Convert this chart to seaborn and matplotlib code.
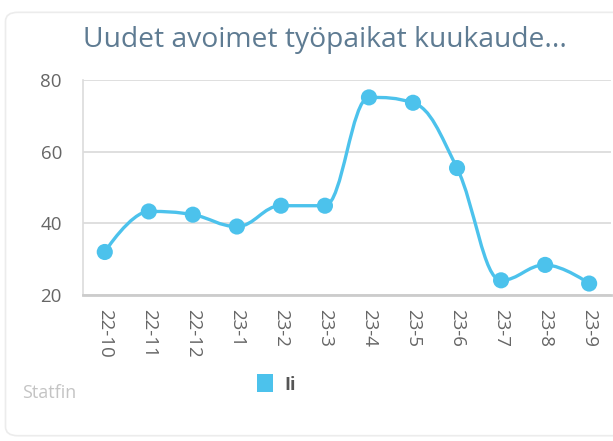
import numpy as np
import pandas as pd
import matplotlib
matplotlib.use("Agg")
import matplotlib.pyplot as plt
from matplotlib.path import Path
from matplotlib.patches import PathPatch, FancyBboxPatch
import seaborn as sns

# data
months = ["22-10", "22-11", "22-12", "23-1", "23-2", "23-3",
          "23-4", "23-5", "23-6", "23-7", "23-8", "23-9"]
values = [32, 43.3, 42.4, 39.1, 44.9, 44.9, 75.1, 73.6, 55.4, 24.1, 28.4, 23.2]
y_ticks = [20, 40, 60, 80]
series_name = "Ii"
title = "Uudet avoimet työpaikat kuukaude..."
credit = "Statfin"

LINE = "#4cc2ec"
TEXT = "#666666"

sns.set_theme(style="white")
plt.rcParams["font.family"] = ["Open Sans", "DejaVu Sans"]


def spline_path(xs, ys, smoothing=1.5):
    """Highcharts-style spline through the points, as cubic bezier segments"""
    n = len(xs)
    left = [(xs[i], ys[i]) for i in range(n)]
    right = [(xs[i], ys[i]) for i in range(n)]
    denom = smoothing + 1
    for i in range(1, n - 1):
        x, y = xs[i], ys[i]
        px, py = xs[i - 1], ys[i - 1]
        nx, ny = xs[i + 1], ys[i + 1]
        lcx = (smoothing * x + px) / denom
        lcy = (smoothing * y + py) / denom
        rcx = (smoothing * x + nx) / denom
        rcy = (smoothing * y + ny) / denom
        corr = ((rcy - lcy) * (rcx - x)) / (rcx - lcx) + y - rcy
        lcy += corr
        rcy += corr
        if lcy > py and lcy > y:
            lcy = max(py, y)
            rcy = 2 * y - lcy
        elif lcy < py and lcy < y:
            lcy = min(py, y)
            rcy = 2 * y - lcy
        if rcy > ny and rcy > y:
            rcy = max(ny, y)
            lcy = 2 * y - rcy
        elif rcy < ny and rcy < y:
            rcy = min(ny, y)
            lcy = 2 * y - rcy
        left[i] = (lcx, lcy)
        right[i] = (rcx, rcy)
    verts = [(xs[0], ys[0])]
    codes = [Path.MOVETO]
    for i in range(1, n):
        verts += [right[i - 1], left[i], (xs[i], ys[i])]
        codes += [Path.CURVE4] * 3
    return Path(verts, codes)


df = pd.DataFrame({"month": months, "value": values})
df["pos"] = np.arange(len(months))

fig = plt.figure(figsize=(6.13, 4.41), dpi=100)

# card outline
card = FancyBboxPatch((0.009, 0.012), 1.2, 0.96, boxstyle="round,pad=0,rounding_size=0.02",
                      transform=fig.transFigure, fc="none", ec="#ececec", lw=1.2, zorder=-1)
fig.patches.append(card)

ax = fig.add_axes([0.135, 0.331, 0.862, 0.488])
ax.set_facecolor("none")

ax.add_patch(PathPatch(spline_path(df["pos"].tolist(), df["value"].tolist()),
                       fc="none", ec=LINE, lw=2.4, zorder=3, capstyle="round"))
sns.scatterplot(data=df, x="pos", y="value", ax=ax, color=LINE, s=135,
                edgecolor="none", zorder=4, legend=False, clip_on=False)

ax.set_xlim(-0.5, len(months) - 0.5)
ax.set_ylim(20, 80)
ax.set_yticks(y_ticks)
ax.set_yticklabels([str(t) for t in y_ticks], color=TEXT, fontsize=13.5)
ax.set_xticks(df["pos"])
ax.set_xticklabels(months, rotation=-90, color=TEXT, fontsize=13.5, va="top")
ax.tick_params(axis="y", length=0, pad=15)
ax.tick_params(axis="x", length=0, pad=10)
ax.set_xlabel("")
ax.set_ylabel("")
ax.grid(axis="y", color="#d9d9d9", lw=1.2)
for side in ["top", "right"]:
    ax.spines[side].set_visible(False)
ax.spines["left"].set_color("#dcdcdc")
ax.spines["left"].set_linewidth(1.2)
ax.spines["bottom"].set_color("#cccccc")
ax.spines["bottom"].set_linewidth(2)

fig.text(0.135, 0.909, title, color="#5e7b92", fontsize=20.3, ha="left", va="center")
fig.text(0.036, 0.108, credit, color="#c4c4c4", fontsize=13, ha="left", va="center")

# legend
fig.patches.append(plt.Rectangle((0.419, 0.111), 0.027, 0.04, transform=fig.transFigure,
                                 fc=LINE, ec="none"))
fig.text(0.464, 0.127, series_name, color="#555555", fontsize=13, fontweight="bold",
         ha="left", va="center")

fig.savefig("out.png", dpi=100)
